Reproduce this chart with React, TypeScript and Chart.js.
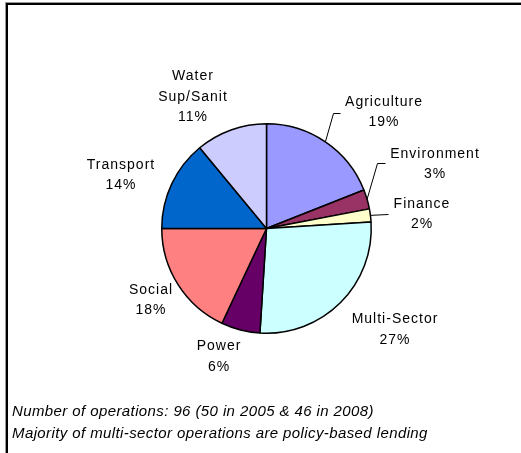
import React, { useEffect, useRef } from 'react';
import { Chart, registerables } from 'chart.js';

Chart.register(...registerables);

const categories: string[][] = [
  ['Agriculture'],
  ['Environment'],
  ['Finance'],
  ['Multi-Sector'],
  ['Power'],
  ['Social'],
  ['Transport'],
  ['Water', 'Sup/Sanit'],
];
const shares: number[] = [19, 3, 2, 27, 6, 18, 14, 11];
const sliceColors: string[] = ['#9999FF', '#993366', '#FFFFCC', '#CCFFFF', '#660066', '#FF8080', '#0066CC', '#CCCCFF'];
const notes: string[] = [
  'Number of operations: 96 (50 in 2005 & 46 in 2008)',
  'Majority of multi-sector operations are policy-based lending',
];

// label block centre offsets from pie centre (layout only)
const labelOffsets: { dx: number; dy: number }[] = [
  { dx: 117, dy: -116.5 },
  { dx: 168, dy: -64.5 },
  { dx: 155, dy: -14.5 },
  { dx: 128, dy: 101 },
  { dx: -48, dy: 128 },
  { dx: -116, dy: 71.5 },
  { dx: -146, dy: -53.5 },
  { dx: -74, dy: -131.5 },
];
// leader lines: elbow / end relative to label centre
const leaders: ({ elbowDx: number | null; endDx: number; dy: number } | null)[] = [
  { elbowDx: -50, endDx: -43, dy: 1.5 },
  { elbowDx: -57, endDx: -49, dy: -0.5 },
  { elbowDx: null, endDx: -33, dy: 0.5 },
  null, null, null, null, null,
];

const labelPlugin = {
  id: 'pieLabels',
  beforeDraw(chart: any) {
    const ctx = chart.ctx;
    ctx.save();
    ctx.fillStyle = '#ffffff';
    ctx.fillRect(0, 0, chart.width, chart.height);
    ctx.fillStyle = '#9a9a9a';
    ctx.fillRect(5, 2, chart.width, 1);
    ctx.fillRect(5, 2, 1, chart.height);
    ctx.fillStyle = '#000000';
    ctx.fillRect(6, 3, chart.width, 2);
    ctx.fillRect(6, 3, 2, chart.height);
    ctx.restore();
  },
  afterDraw(chart: any) {
    const ctx = chart.ctx;
    const meta = chart.getDatasetMeta(0);
    ctx.save();
    ctx.font = '14px "Liberation Sans", Arial, sans-serif';
    (ctx as any).letterSpacing = '1px';
    ctx.fillStyle = '#000';
    ctx.strokeStyle = '#000';
    ctx.lineWidth = 1;
    ctx.textAlign = 'center';
    ctx.textBaseline = 'middle';
    meta.data.forEach((arc: any, i: number) => {
      const cx = arc.x, cy = arc.y;
      const off = labelOffsets[i];
      const lx = cx + off.dx, ly = cy + off.dy;
      const lines = [...categories[i], shares[i] + '%'];
      const lh = 20.5;
      const top = ly - ((lines.length - 1) * lh) / 2;
      lines.forEach((t, j) => ctx.fillText(t, lx + 0.5, top + j * lh));
      const ld = leaders[i];
      if (ld) {
        const mid = (arc.startAngle + arc.endAngle) / 2;
        const ex = cx + Math.cos(mid) * arc.outerRadius;
        const ey = cy + Math.sin(mid) * arc.outerRadius;
        ctx.beginPath();
        ctx.moveTo(ex, ey);
        if (ld.elbowDx !== null) ctx.lineTo(lx + ld.elbowDx, ly + ld.dy);
        ctx.lineTo(lx + ld.endDx, ly + ld.dy);
        ctx.stroke();
      }
    });
    ctx.font = 'italic 15px "Liberation Sans", Arial, sans-serif';
    (ctx as any).letterSpacing = '0.4px';
    ctx.textAlign = 'left';
    ctx.fillText(notes[0], 12, 412);
    ctx.fillText(notes[1], 12, 434);
    ctx.restore();
  },
};

export default function App() {
  const ref = useRef<HTMLCanvasElement>(null);
  useEffect(() => {
    if (!ref.current) return;
    const chart = new Chart(ref.current, {
      type: 'pie',
      data: {
        labels: categories.map((c) => c.join(' ')),
        datasets: [
          {
            data: shares,
            backgroundColor: sliceColors,
            borderColor: '#000',
            borderWidth: 1.5,
          },
        ],
      },
      options: {
        responsive: false,
        animation: false,
        layout: { padding: { left: 161, right: 149, top: 123, bottom: 119 } },
        plugins: { legend: { display: false }, tooltip: { enabled: false } },
      },
      plugins: [labelPlugin],
    });
    return () => chart.destroy();
  }, []);
  return (
    <div style={{ position: 'fixed', left: 0, top: 0, width: 521, height: 453 }}>
      <canvas ref={ref} width={521} height={453} style={{ width: 521, height: 453 }} />
    </div>
  );
}
